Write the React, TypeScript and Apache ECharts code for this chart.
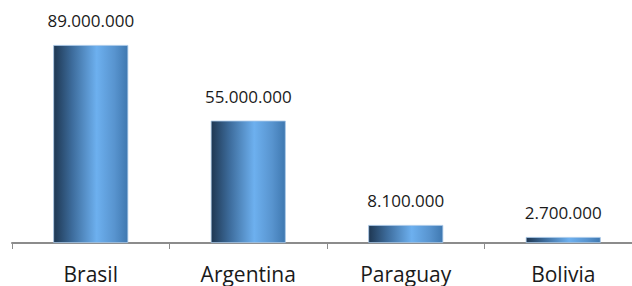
import React, { useEffect, useRef } from "react";
import * as echarts from "echarts";

const categories = ["Brasil", "Argentina", "Paraguay", "Bolivia"];
const values = [89000000, 55000000, 8100000, 2700000];

function fmt(v: number): string {
  return String(Math.round(v)).replace(/\B(?=(\d{3})+(?!\d))/g, ".");
}

export default function App() {
  const ref = useRef<HTMLDivElement>(null);
  useEffect(() => {
    if (!ref.current) return;
    const chart = echarts.init(ref.current, null, { renderer: "svg" });
    const grad = new echarts.graphic.LinearGradient(0, 0, 1, 0, [
      { offset: 0, color: "#1e3752" },
      { offset: 0.25, color: "#3d6c9c" },
      { offset: 0.58, color: "#6db0ef" },
      { offset: 0.82, color: "#5894cf" },
      { offset: 1, color: "#3f78b0" },
    ]);
    chart.setOption({
      animation: false,
      backgroundColor: "#ffffff",
      grid: { left: 12, right: 0, top: 45, bottom: 43, containLabel: false },
      xAxis: {
        type: "category",
        data: categories,
        axisLine: { lineStyle: { color: "#8c8c8c", width: 2 } },
        axisTick: { show: true, length: 6, lineStyle: { color: "#8c8c8c", width: 1 } },
        axisLabel: {
          color: "#1a1a1a",
          fontSize: 21,
          lineHeight: 21,
          fontFamily: "Open Sans",
          margin: 20,
        },
      },
      yAxis: {
        type: "value",
        min: 0,
        max: 89000000,
        show: false,
        splitLine: { show: false },
      },
      series: [
        {
          type: "bar",
          data: values,
          barWidth: 75,
          itemStyle: {
            color: grad,
            borderColor: "#a9c9ea",
            borderWidth: 0.8,
          },
          label: {
            show: true,
            position: "top",
            distance: 16,
            color: "#1a1a1a",
            fontSize: 17,
            fontFamily: "Open Sans",
            formatter: (p: any) => fmt(p.value),
          },
        },
      ],
    });
    return () => chart.dispose();
  }, []);
  return (
    <div style={{ position: "absolute", left: 0, top: 0, width: 632, height: 286, overflow: "hidden" }}>
      <div ref={ref} style={{ width: 642, height: 286 }} />
    </div>
  );
}
